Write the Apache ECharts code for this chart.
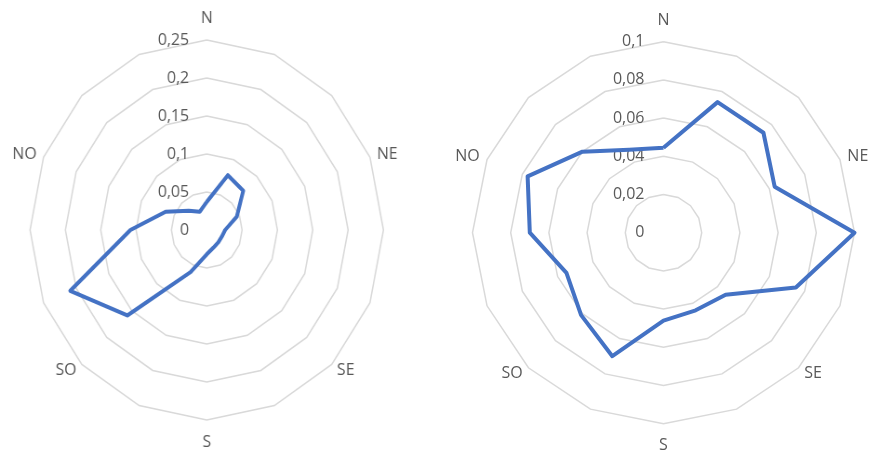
<!DOCTYPE html>
<html>
<head>
<meta charset="utf-8">
<script src="https://cdn.jsdelivr.net/npm/echarts@6/dist/echarts.min.js"></script>
<style>
html,body{margin:0;padding:0;background:#fff;width:870px;height:452px;overflow:hidden;}
#left{position:absolute;left:0;top:0;width:468px;height:452px;transform:scaleX(0.93);transform-origin:0 0;}
#right{position:absolute;left:435px;top:0;width:435px;height:452px;}
</style>
</head>
<body>
<div id="left"></div>
<div id="right"></div>
<script>
// 16 directions, clockwise from North
var directions = ['N','','','NE','','','SE','','S','','SO','','','NO','',''];
var leftValues  = [0.037, 0.078, 0.073, 0.046, 0.026, 0.023, 0.023, 0.025, 0.032, 0.060, 0.159, 0.209, 0.108, 0.063, 0.036, 0.026];
var rightValues = [0.0445, 0.074, 0.074, 0.063, 0.100, 0.075, 0.046, 0.044, 0.046, 0.070, 0.061, 0.055, 0.070, 0.077, 0.060, 0.047];
var leftMax = 0.25;
var rightMax = 0.1;

// ECharts places indicators counter-clockwise; reorder so they run clockwise.
function cwOrder(arr){
  var out = [arr[0]];
  for (var i = arr.length - 1; i >= 1; i--) out.push(arr[i]);
  return out;
}
function fmt(v){
  return String(Number(Number(v).toPrecision(6))).replace('.', ',');
}
var FONT = 'Open Sans';
function makeOption(values, max, center, radius, fs){
  var names = cwOrder(directions);
  var indicator = names.map(function(n, i){
    var o = {name: n, min: 0, max: max};
    if (i === 0) { o.axisLabel = {show: true}; o.nameGap = 13; }
    if (n === 'S') { o.nameGap = 14; }
    return o;
  });
  return {
    animation: false,
    backgroundColor: '#fff',
    radar: {
      center: center,
      radius: radius,
      shape: 'polygon',
      splitNumber: 5,
      startAngle: 90,
      indicator: indicator,
      axisName: {color: '#595959', fontSize: fs, fontFamily: FONT},
      nameGap: 8,
      axisLine: {show: false},
      axisTick: {show: false},
      splitArea: {show: false},
      splitLine: {lineStyle: {color: '#d9d9d9', width: 1.5}},
      axisLabel: {show: false, color: '#595959', fontSize: fs, fontFamily: FONT, margin: 19, formatter: fmt}
    },
    series: [{
      type: 'radar',
      symbol: 'none',
      lineStyle: {color: '#4472C4', width: 4},
      data: [{value: cwOrder(values)}]
    }]
  };
}
var lc = echarts.init(document.getElementById('left'));
lc.setOption(makeOption(leftValues, leftMax, [222.3, 230], 190, 17));
var rc = echarts.init(document.getElementById('right'));
rc.setOption(makeOption(rightValues, rightMax, [228.5, 232.7], 191, 16));
</script>
</body>
</html>
